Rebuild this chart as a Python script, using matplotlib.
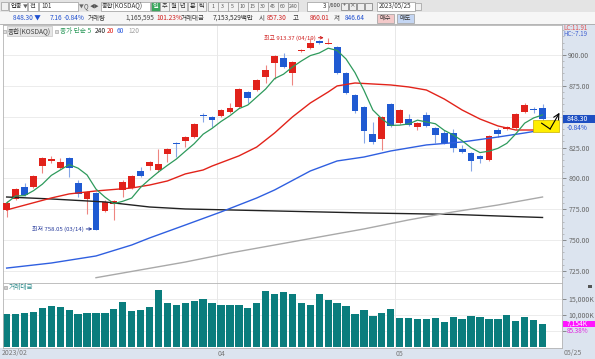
import matplotlib
matplotlib.use('Agg')
import matplotlib.pyplot as plt
from matplotlib.patches import Rectangle
from matplotlib.ticker import MultipleLocator
import numpy as np
import pandas as pd

plt.rcParams['font.family'] = ['Noto Sans CJK KR', 'DejaVu Sans']

# 종합(KOSDAQ) 일봉, 2023/02/27 ~ 2023/05/25
opens = [774.4, 783.3, 793.0, 793.0, 810.0, 814.1, 808.4, 816.5, 796.3, 783.3,
         788.2, 773.6, 779.2, 790.6, 792.2, 806.0, 810.0, 806.8, 819.8, 828.3,
         830.3, 833.5, 851.0, 849.8, 850.6, 853.8, 857.9, 870.0, 871.6, 882.2,
         893.5, 897.6, 885.4, 903.2, 905.7, 911.3, 909.0, 906.5, 885.4, 867.6,
         857.9, 836.0, 831.9, 860.3, 844.9, 848.1, 841.7, 851.4, 840.8, 836.8,
         836.8, 823.8, 820.6, 818.2, 814.9, 839.2, 840.0, 840.8, 853.8, 856.2,
         857.30]
highs = [781.7, 792.5, 796.3, 802.8, 817.3, 818.2, 816.5, 817.3, 798.7, 789.8,
         789.0, 782.5, 782.5, 798.7, 802.8, 809.2, 814.1, 823.8, 824.6, 829.5,
         834.3, 844.9, 853.0, 850.6, 856.2, 861.1, 873.2, 870.8, 880.5, 891.9,
         900.0, 901.6, 895.1, 904.9, 913.8, 912.2, 913.37, 907.3, 886.2, 868.4,
         858.7, 845.7, 850.6, 861.1, 856.2, 852.2, 845.7, 853.8, 841.6, 839.2,
         840.0, 827.1, 821.4, 819.0, 835.2, 840.8, 842.5, 853.0, 861.1, 857.9,
         860.01]
lows = [768.7, 782.5, 785.7, 792.2, 804.4, 812.5, 807.6, 801.1, 784.9, 771.1,
        758.05, 772.8, 766.3, 784.9, 791.4, 801.1, 806.8, 805.2, 813.3, 817.3,
        825.4, 832.7, 845.7, 841.7, 849.8, 853.0, 857.0, 861.1, 870.8, 877.3,
        880.5, 889.5, 875.7, 902.4, 905.0, 909.0, 908.5, 884.6, 868.4, 853.0,
        828.7, 827.9, 823.0, 841.7, 844.1, 842.5, 839.2, 841.7, 828.7, 827.9,
        821.4, 820.6, 806.0, 812.5, 814.1, 833.5, 839.2, 840.0, 853.0, 853.0,
        846.64]
closes = [780.1, 791.4, 786.5, 802.0, 816.5, 815.7, 813.3, 808.4, 787.4, 789.0,
          758.5, 780.9, 781.7, 797.1, 802.0, 802.0, 813.3, 811.7, 823.8, 827.5,
          833.5, 844.1, 850.2, 847.3, 855.4, 857.0, 872.4, 865.2, 879.7, 887.8,
          899.2, 890.3, 894.3, 904.1, 909.7, 909.7, 909.7, 885.4, 869.2, 854.6,
          838.4, 829.5, 849.8, 842.5, 855.4, 843.3, 844.9, 842.5, 835.2, 828.7,
          824.6, 821.4, 814.1, 815.7, 834.4, 836.0, 841.7, 852.2, 859.5, 855.46,
          848.30]
# 거래대금 (K)
volumes = [10219, 10219, 10625, 10833, 12083, 12812, 12396, 11458, 10312, 10520,
           10625, 10520, 11979, 14062, 11250, 11562, 12396, 17708, 13646, 13125,
           13646, 14375, 14896, 13646, 13125, 13125, 13229, 12187, 13750, 17500,
           16562, 17083, 16562, 13750, 13125, 16458, 14583, 13750, 12812, 10312,
           11562, 9687, 10520, 11770, 9062, 9062, 8645, 8750, 8958, 7812,
           9270, 8645, 9687, 9479, 8750, 8750, 10104, 8125, 9375, 8380,
           7154]

# 이동평균선
ma20_idx = [0, 5, 7, 9, 10, 14, 16, 18, 20, 22, 23, 26, 28, 30, 32, 34, 36, 37, 39,
            41, 43, 45, 47, 49, 51, 53, 55, 57, 59, 60]
ma20_val = [774.4, 784.1, 787.4, 789.0, 789.8, 792.2, 794.6, 797.9, 803.6, 806.8,
            810.0, 818.2, 825.4, 836.8, 849.8, 861.1, 870.0, 874.9, 877.3, 876.5,
            875.7, 874.1, 871.6, 864.3, 855.4, 848.1, 842.5, 839.2, 839.2, 840.0]
ma60_idx = [0, 5, 10, 14, 16, 20, 24, 28, 30, 34, 37, 40, 43, 47, 51, 55, 58, 60]
ma60_val = [727.3, 731.4, 737.1, 746.0, 751.7, 762.2, 772.8, 784.1, 790.6, 806.0,
            814.1, 817.3, 822.2, 827.1, 829.5, 833.5, 836.8, 839.2]
ma120_idx = [10, 13, 20, 25, 30, 35, 40, 45, 50, 55, 60]
ma120_val = [719.5, 723.3, 732.2, 739.5, 746.0, 752.5, 759.0, 766.3, 772.8, 778.4, 784.9]
ma240_idx = [0, 5, 11, 16, 20, 30, 40, 50, 57, 60]
ma240_val = [784.9, 783.3, 780.9, 776.8, 775.2, 773.6, 772.0, 770.8, 769.0, 768.3]

month_pos = [23.5, 43.5]
month_labels = ['04', '05']
price_ticks = [725, 750, 775, 800, 825, 850, 875, 900]

UP, DOWN = '#e1221b', '#1f5ad2'
UP_W, DOWN_W = '#ee8580', '#86a6e6'

fig = plt.figure(figsize=(5.95, 3.59), dpi=100)

# 배경 (픽셀 좌표)
bg = fig.add_axes([0, 0, 1, 1], zorder=0)
bg.set_xlim(0, 595)
bg.set_ylim(359, 0)
bg.axis('off')
fg = fig.add_axes([0, 0, 1, 1], zorder=5)
fg.set_xlim(0, 595)
fg.set_ylim(359, 0)
fg.axis('off')
fg.patch.set_alpha(0)


def box(a, x, y, w, h, fc='white', ec='#9c9c9c', lw=0.5):
    a.add_patch(Rectangle((x, y), w, h, facecolor=fc, edgecolor=ec, lw=lw))


def txt(a, x, y, s, color='#333333', size=5, ha='left', **kw):
    a.text(x, y, s, color=color, fontsize=size, ha=ha, va='center', **kw)


box(bg, 0, 0, 595, 12, fc='#e4e4e4', ec='none')
box(bg, 0, 12, 595, 12, fc='#f6f6f6', ec='none')
bg.plot([0, 595], [24, 24], color='#a8a8a8', lw=0.6)
box(bg, 562, 24, 33, 335, fc='#dce4ef', ec='none')
box(bg, 0, 348, 562, 11, fc='#dce4ef', ec='none')

# 툴바 1줄
box(bg, 1, 2, 7, 8, fc='#f0f0f0')
box(bg, 9, 1.5, 18, 9)
txt(bg, 10.5, 6, '업종', size=4.5)
txt(bg, 23, 6, '▼', size=3.5, color='#666666')
box(bg, 28, 1.5, 10, 9)
txt(bg, 29.5, 6, '전', size=4.5)
box(bg, 39, 1.5, 39, 9)
txt(bg, 41, 6, '101', size=4.5)
txt(bg, 79, 6, '▼', size=3.5, color='#666666')
txt(bg, 84, 6, 'Q', size=4.5, color='#555555')
txt(bg, 90, 6, '◀▶', size=3.5, color='#555555')
box(bg, 101, 1.5, 49, 9)
txt(bg, 102, 6, '종합(KOSDAQ)', size=4.5)
for k, (bx, s) in enumerate([(151, '일'), (160, '주'), (169, '월'), (178, '년'),
                             (188, '분'), (197, '틱')]):
    box(bg, bx, 1.5, 8.5, 9, fc='#3aa65c' if k == 0 else '#f2f2f2')
    txt(bg, bx + 4.25, 6, s, size=4.5, ha='center', color='white' if k == 0 else '#333333')
for k, s in enumerate(['1', '3', '5', '10', '15', '30', '45', '60', '240']):
    bx = 208 + k * 10
    box(bg, bx, 1.5, 9.5, 9, fc='#f2f2f2')
    txt(bg, bx + 4.75, 6, s, size=3.8, ha='center', color='#555555')
box(bg, 307, 1.5, 21, 9)
txt(bg, 326, 6, '3', size=4.5, ha='right')
txt(bg, 328.5, 6, '/600', size=4.2)
for bx in [341, 349, 357, 365]:
    box(bg, bx, 2.5, 6.5, 7, fc='#eeeeee', ec='#777777', lw=0.5)
txt(bg, 344.25, 6, '+', size=4, ha='center', color='#333333')
txt(bg, 352.25, 6, '×', size=4, ha='center', color='#333333')
box(bg, 377, 1.5, 38, 9)
txt(bg, 379, 6, '2023/05/25', size=4.5)
box(bg, 415, 2.5, 6, 7, fc='#f0f0f0')

# 툴바 2줄 (시세)
txt(bg, 13, 18, '848.30 ▼', color='#1f4fd0', size=4.7)
txt(bg, 50, 18, '7.16', color='#1f4fd0', size=4.7)
txt(bg, 64, 18, '-0.84%', color='#1f4fd0', size=4.7)
txt(bg, 88, 18, '거래량', size=4.7)
txt(bg, 125, 18, '1,165,595', color='#444444', size=4.7)
txt(bg, 156, 18, '101.23%', color='#d02020', size=4.7)
txt(bg, 181, 18, '거래대금', size=4.7)
txt(bg, 213, 18, '7,153,529백만', size=4.7)
txt(bg, 259, 18, '시', size=4.7)
txt(bg, 267, 18, '857.30', color='#d02020', size=4.7)
txt(bg, 293, 18, '고', size=4.7)
txt(bg, 310, 18, '860.01', color='#d02020', size=4.7)
txt(bg, 334, 18, '저', size=4.7)
txt(bg, 345, 18, '846.64', color='#1f4fd0', size=4.7)
box(bg, 377, 13.5, 17, 9, fc='#f3c9c9')
txt(bg, 385.5, 18, '매수', ha='center', size=4.5)
box(bg, 397, 13.5, 17, 9, fc='#c4d6f3')
txt(bg, 405.5, 18, '매도', ha='center', size=4.5)

# 가격 차트
ax = fig.add_axes([3 / 595, 1 - 283 / 359, 559 / 595, 258 / 359], zorder=1)
axv = fig.add_axes([3 / 595, 1 - 348 / 359, 559 / 595, 65 / 359], zorder=1)

x = np.arange(len(closes))
o, h, l, c = map(np.array, (opens, highs, lows, closes))
up = c >= o
ax.vlines(x, l, h, colors=np.where(up, UP_W, DOWN_W), lw=0.8, zorder=2)
ax.bar(x, np.maximum(np.abs(c - o), 0.7), bottom=np.minimum(o, c), width=0.76,
       color=np.where(up, UP, DOWN), linewidth=0, zorder=3)

ma5 = pd.Series(closes).rolling(5, min_periods=1).mean()
ax.plot(ma240_idx, ma240_val, color='#222222', lw=1.0, zorder=4)
ax.plot(ma120_idx, ma120_val, color='#a9a9a9', lw=1.0, zorder=4)
ax.plot(ma60_idx, ma60_val, color='#2f5fe0', lw=1.0, zorder=4)
ax.plot(ma20_idx, ma20_val, color='#e2231a', lw=1.0, zorder=4)
ax.plot(x, ma5, color='#2e9a5c', lw=0.9, zorder=4)

ax.set_xlim(-0.41, 62.18)
ax.set_ylim(715.2, 924.3)
ax.set_xticks([])
ax.yaxis.tick_right()
ax.set_yticks(price_ticks)
ax.set_yticklabels(['' if v == 850 else f'{v:.2f}' for v in price_ticks])
ax.yaxis.set_minor_locator(MultipleLocator(5))
ax.tick_params(axis='y', which='major', labelsize=5, colors='#666666', length=3, width=0.5, pad=1.5)
ax.tick_params(axis='y', which='minor', colors='#999999', length=1.5, width=0.4)
ax.grid(axis='y', color='#e9e9e9', lw=0.6)
for p in month_pos:
    ax.axvline(p, color='#e4e4e4', lw=0.6, zorder=0)
    axv.axvline(p, color='#e4e4e4', lw=0.6, zorder=0)
for sp in ax.spines.values():
    sp.set_color('#b4b4b4')
    sp.set_linewidth(0.6)

# 최고/최저 표시
ax.annotate('최고 913.37 (04/19)', xy=(35.5, 914.0), xytext=(34.6, 914.0), fontsize=4.3,
            color='#d02020', ha='right', va='center',
            arrowprops=dict(arrowstyle='->', color='#d02020', lw=0.7, shrinkA=0, shrinkB=0))
ax.annotate('최저 758.05 (03/14)', xy=(9.6, 759.0), xytext=(8.6, 759.0), fontsize=4.3,
            color='#283c9c', ha='right', va='center',
            arrowprops=dict(arrowstyle='->', color='#283c9c', lw=0.7, shrinkA=0, shrinkB=0))

# 사용자 도형 (노란 박스 + 화살표)
ax.add_patch(Rectangle((58.9, 837.6), 2.95, 9.4, facecolor='#ffee00', edgecolor='#c8b000',
                       lw=0.5, zorder=5))
ax.plot([59.9, 60.85], [844.7, 840.0], color='black', lw=0.8, zorder=6)
ax.annotate('', xy=(61.9, 853.2), xytext=(60.85, 840.0),
            arrowprops=dict(arrowstyle='->', color='black', lw=0.8, shrinkA=0, shrinkB=0),
            zorder=6)

# 현재가 박스
ax.add_patch(Rectangle((1.002, 848.30 - 3.4), 0.058, 6.8, transform=ax.get_yaxis_transform(),
                       facecolor='#1d4fc2', edgecolor='none', clip_on=False, zorder=7))
ax.text(1.008, 848.30, '848.30', transform=ax.get_yaxis_transform(), fontsize=5,
        color='white', va='center', zorder=8)
ax.text(1.008, 841.0, '-0.84%', transform=ax.get_yaxis_transform(), fontsize=4.7,
        color='#2050d0', va='center', zorder=8)

# 거래대금
axv.bar(x, volumes, width=0.82, color='#0a7d7d', linewidth=0)
axv.set_xlim(-0.41, 62.18)
axv.set_ylim(-312, 20000)
axv.set_xticks([])
axv.yaxis.tick_right()
axv.set_yticks([5000, 10000, 15000])
axv.set_yticklabels(['', '10,000K', '15,000K'])
axv.tick_params(axis='y', labelsize=5, colors='#666666', length=3, width=0.5, pad=1.5)
axv.grid(axis='y', color='#e9e9e9', lw=0.6)
axv.set_axisbelow(True)
for sp in axv.spines.values():
    sp.set_color('#b4b4b4')
    sp.set_linewidth(0.6)
axv.add_patch(Rectangle((1.002, volumes[-1] - 950), 0.058, 1900, transform=axv.get_yaxis_transform(),
                        facecolor='#ff14ff', edgecolor='none', clip_on=False, zorder=7))
axv.text(1.008, volumes[-1], '7,154K', transform=axv.get_yaxis_transform(), fontsize=4.8,
         color='white', va='center', zorder=8)
axv.text(1.008, volumes[-1] - 2300, '85.38%', transform=axv.get_yaxis_transform(), fontsize=4.6,
         color='#e020e0', va='center', zorder=8)
for p, s in zip(month_pos, month_labels):
    axv.text(p + 0.1, -0.09, s, transform=axv.get_xaxis_transform(), fontsize=5,
             color='#777777', va='center')

# 범례 / 라벨
box(fg, 2.5, 29.5, 3, 3, fc='#dddddd', ec='#999999', lw=0.4)
fg.text(8, 31, '종합(KOSDAQ)', fontsize=4.8, color='#444444', va='center',
        bbox=dict(boxstyle='square,pad=0.15', facecolor='#e6e6e6', edgecolor='#bbbbbb', lw=0.4))
box(fg, 54.5, 29.5, 3, 3, fc='#dddddd', ec='#999999', lw=0.4)
txt(fg, 60, 31, '종가 단순 5', color='#2e9a5c', size=4.8)
txt(fg, 95, 31, '240', color='#222222', size=4.8)
txt(fg, 107, 31, '20', color='#e2231a', size=4.8)
txt(fg, 117, 31, '60', color='#2f5fe0', size=4.8)
txt(fg, 128, 31, '120', color='#a0a0a0', size=4.8)
box(fg, 4, 286, 2.5, 2.5, fc='#cccccc', ec='#999999', lw=0.4)
txt(fg, 9, 287.5, '거래대금', color='#2a8a8a', size=4.8)
txt(fg, 563, 28, 'LC:11.91', color='#e05050', size=4.4)
txt(fg, 563, 34.5, 'HC:-7.19', color='#4060d0', size=4.4)
box(fg, 588, 285, 4, 3, fc='#555555', ec='none')
txt(fg, 2, 353.5, '2023/02', color='#777777', size=5)
txt(fg, 564, 353.5, '05/25', color='#777777', size=5)

fig.savefig('out.png', dpi=100)
